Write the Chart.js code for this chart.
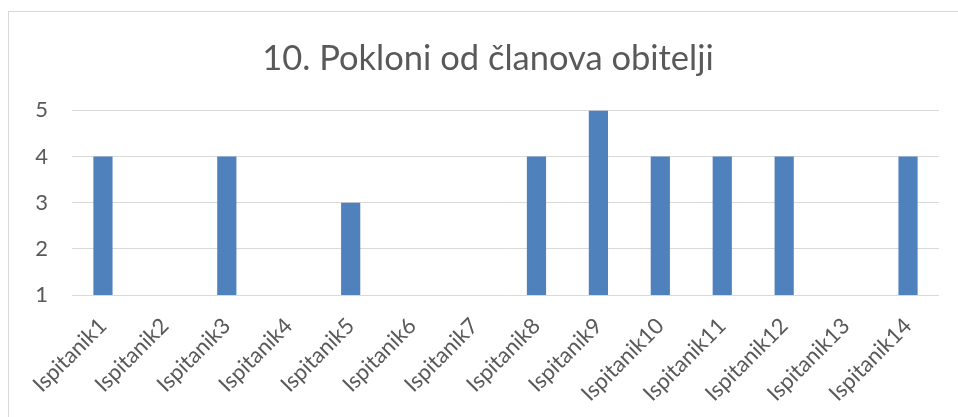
<!DOCTYPE html>
<html>
<head>
<meta charset="utf-8">
<script src="https://cdn.jsdelivr.net/npm/chart.js@4.4.1/dist/chart.umd.min.js"></script>
<style>
  html, body { margin: 0; padding: 0; background: #fff; overflow: hidden; }
  #frame {
    position: absolute; left: 8px; top: 11px; width: 1200px; height: 600px;
    border: 1px solid #d9d9d9; box-sizing: border-box;
  }
  #wrap { position: absolute; left: 0; top: 0; width: 976px; height: 417px; }
</style>
</head>
<body>
<div id="frame"></div>
<div id="wrap"><canvas id="chart"></canvas></div>
<script>
const chartTitle = "10. Pokloni od članova obitelji";
const categories = [
  "Ispitanik1", "Ispitanik2", "Ispitanik3", "Ispitanik4", "Ispitanik5",
  "Ispitanik6", "Ispitanik7", "Ispitanik8", "Ispitanik9", "Ispitanik10",
  "Ispitanik11", "Ispitanik12", "Ispitanik13", "Ispitanik14",
];
const values = [4, 1, 4, 1, 3, 1, 1, 4, 5, 4, 4, 4, 1, 4];
const yTicks = [1, 2, 3, 4, 5];

const textColor = "#595959";
const gridColor = "#d9d9d9";
const barColor = "#4f81bd";
const fontFamily = "Lato, 'Open Sans', sans-serif";

new Chart(document.getElementById("chart"), {
  type: "bar",
  data: {
    labels: categories,
    datasets: [
      {
        data: values,
        backgroundColor: barColor,
        borderWidth: 0,
        barPercentage: 0.31,
        categoryPercentage: 1,
      },
    ],
  },
  options: {
    responsive: true,
    maintainAspectRatio: false,
    animation: false,
    layout: { padding: 0 },
    plugins: {
      legend: { display: false },
      tooltip: { enabled: false },
      title: {
        display: true,
        text: chartTitle,
        color: textColor,
        font: { family: fontFamily, size: 34.5, weight: "normal" },
        padding: { top: 38, bottom: 31 },
      },
    },
    scales: {
      x: {
        grid: { display: false },
        border: { display: false },
        ticks: {
          color: textColor,
          font: { family: fontFamily, size: 22 },
          minRotation: 45,
          maxRotation: 45,
          autoSkip: false,
          padding: 10,
        },
        afterFit: (scale) => { scale.height = 122; },
      },
      y: {
        min: yTicks[0],
        max: yTicks[yTicks.length - 1],
        afterBuildTicks: (scale) => { scale.ticks = yTicks.map((v) => ({ value: v })); },
        grid: { color: gridColor, lineWidth: 1, drawTicks: false },
        border: { display: false },
        ticks: {
          color: textColor,
          font: { family: fontFamily, size: 22 },
          padding: 24,
        },
        afterFit: (scale) => { scale.width = 72; },
      },
      // empty right-hand spacer so the title stays centred on the whole frame
      spacer: {
        type: "linear",
        position: "right",
        grid: { display: false },
        border: { display: false },
        ticks: { display: false },
        afterFit: (scale) => { scale.width = 37; },
      },
    },
  },
});
</script>
</body>
</html>
